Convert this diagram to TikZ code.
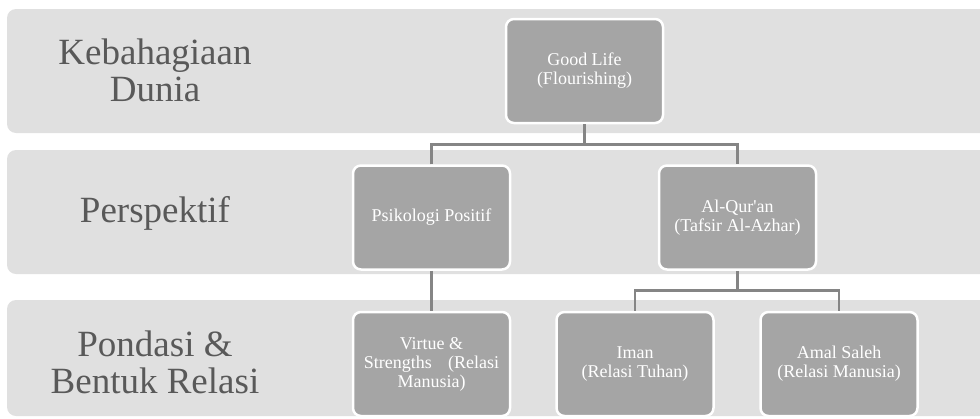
\documentclass[tikz,border=0pt]{standalone}
\usepackage{fontspec}
\setmainfont{Liberation Serif}[Ligatures=TeXOff]
\usetikzlibrary{calc}
\definecolor{bandfill}{HTML}{E0E0E0}
\definecolor{boxfill}{HTML}{A5A5A5}
\definecolor{labeltext}{HTML}{595959}
\definecolor{linkgray}{HTML}{858585}
\tikzset{
  band/.style={fill=bandfill, draw=none, rounded corners=9pt},
  bandlabel/.style={text=labeltext, align=center, inner sep=0pt,
    font=\fontsize{37}{37}\selectfont},
  stepbox/.style={rectangle, rounded corners=8pt, fill=boxfill, draw=white,
    line width=2.5pt, minimum width=157pt, minimum height=104pt,
    text=white, align=center, inner sep=2pt,
    font=\fontsize{18}{19}\selectfont},
  conn/.style={draw=linkgray, line width=2.6pt}
}
\begin{document}
\begin{tikzpicture}[x=1pt, y=-1pt]
  \useasboundingbox (0,0) rectangle (980,418);
  \clip (0,0) rectangle (980,418);

  % horizontal bands
  \fill[band] (7,9) rectangle (1000,133);
  \fill[band] (7,150) rectangle (1000,274);
  \fill[band] (7,300) rectangle (1000,416);

  % band titles
  \node[bandlabel] (t1) at (155,70) {Kebahagiaan\\Dunia};
  \node[bandlabel] (t2) at (155,213) {Perspektif};
  \node[bandlabel] (t3) at (155,362) {Pondasi \&\\Bentuk Relasi};

  % hierarchy boxes
  \node[stepbox] (gl) at (584.5,71) {Good Life\\(Flourishing)};
  \node[stepbox] (pp) at (431.5,217.5) {Psikologi Positif};
  \node[stepbox] (aq) at (737.5,217.5) {Al-Qur'an\\(Tafsir Al-Azhar)};
  \node[stepbox] (vs) at (431.5,364) {Virtue \&\\Strengths\hspace{0.9em}(Relasi\\Manusia)};
  \node[stepbox] (im) at (635,364) {Iman\\(Relasi Tuhan)};
  \node[stepbox] (am) at (839,364) {Amal Saleh\\(Relasi Manusia)};

  % connectors between the levels
  \coordinate (j1) at ($(gl.south)!.5!(gl.south |- pp.north)$);
  \coordinate (j2) at ($(aq.south)!.5!(aq.south |- im.north)$);
  \draw[conn] (gl.south) -- (j1);
  \draw[conn] (pp.north) |- (j1) -| (aq.north);
  \draw[conn] (pp.south) -- (vs.north);
  \draw[conn] (aq.south) -- (j2);
  \draw[conn] (im.north) |- (j2) -| (am.north);
\end{tikzpicture}
\end{document}
